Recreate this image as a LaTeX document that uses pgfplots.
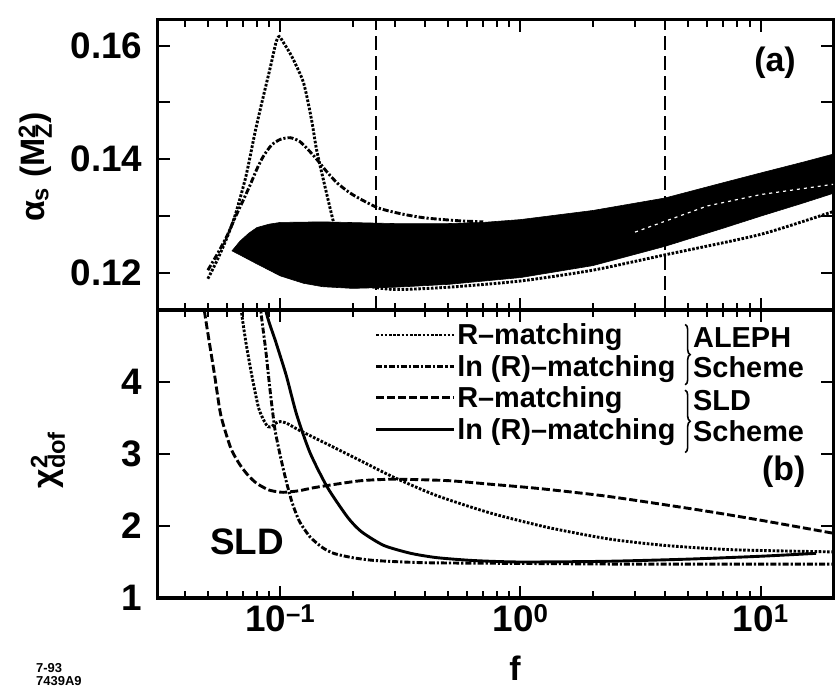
\documentclass[border=0pt]{standalone}
\usepackage{fontspec}
\setmainfont{Liberation Sans}
\usepackage{pgfplots}
\pgfplotsset{compat=1.18}
\usetikzlibrary{decorations.pathreplacing}

\newcommand{\fs}[1]{\fontsize{#1}{#1}\selectfont\bfseries}

% line styles of the four fits
\tikzset{
  alR/.style={black, mark=none, line width=2.9bp, dash pattern=on 2.6bp off 1.6bp},
  alL/.style={black, mark=none, line width=2.9bp, dash pattern=on 6bp off 2bp on 2.2bp off 2bp},
  slR/.style={black, mark=none, line width=2.9bp, dash pattern=on 8bp off 3bp},
  slL/.style={black, mark=none, line width=2.9bp},
}

\pgfplotsset{
  every axis/.append style={
    scale only axis, width=675bp,
    xmode=log, xmin=0.031, xmax=20,
    axis line style={line width=3bp},
    tick align=inside,
    major tick length=12bp, minor tick length=7bp,
    tick style={line width=2bp, black},
    xtick={0.1,1,10},
    minor xtick={0.04,0.05,0.06,0.07,0.08,0.09,0.2,0.3,0.4,0.5,0.6,0.7,0.8,0.9,2,3,4,5,6,7,8,9},
    tick label style={font=\fs{37}},
    yticklabel style={xshift=-12bp},
    xticklabel style={yshift=-3bp, anchor=north},
  },
}

\begin{document}
\begin{tikzpicture}
\useasboundingbox (0,0) rectangle (837bp,687bp);

% ---- (a) alpha_s ----
\begin{axis}[
  at={(158bp,377bp)}, anchor=south west, height=290bp,
  ymin=0.1135, ymax=0.1645,
  ytick={0.12,0.13,0.14,0.15,0.16},
  yticklabels={0.12,,0.14,,0.16},
  xticklabels=\empty,
  ylabel={α\textsubscript{s} (M\rlap{\textsuperscript{2}}\textsubscript{Z})},
  ylabel style={at={(axis description cs:-0.182,0.493)}, anchor=center, font=\fs{34}},
]
% SLD scheme band
\addplot[fill=black, draw=black, line width=0.6bp] coordinates {
  (0.063,0.1239) (0.068,0.1256) (0.074,0.1270) (0.08,0.1280) (0.09,0.1286)
  (0.1,0.1289) (0.15,0.1290) (0.3,0.1287) (0.5,0.1287) (0.7,0.1289)
  (1,0.1294) (2,0.1310) (4,0.1332) (7,0.1359) (10,0.1376) (15,0.1395) (20,0.1409)
  (20,0.1340) (15,0.1323) (10,0.1300) (7,0.1279) (4,0.1247) (2,0.1213)
  (1,0.1192) (0.5,0.1180) (0.3,0.1175) (0.2,0.1173) (0.15,0.1176) (0.125,0.1182)
  (0.1,0.1195) (0.091,0.1204) (0.08,0.1216) (0.07,0.1229) (0.063,0.1239)
} -- cycle;
\addplot[white, line width=1.2bp, dash pattern=on 3bp off 4bp] coordinates {
  (3,0.1272) (6,0.1318) (10,0.1338) (20,0.1356)
};
% ALEPH scheme, R-matching
\addplot[alR, smooth, tension=0.4] coordinates {
  (0.05,0.1190) (0.055,0.1225) (0.06,0.1262) (0.065,0.1302) (0.072,0.1370)
  (0.079,0.1452) (0.085,0.1510) (0.091,0.1562) (0.096,0.1605) (0.099,0.1616)
  (0.104,0.1603) (0.112,0.1580) (0.125,0.1535) (0.135,0.1470) (0.142,0.1415)
  (0.155,0.1345) (0.165,0.1297) (0.18,0.1235) (0.2,0.1195) (0.23,0.1178)
  (0.3,0.1171) (0.5,0.1175) (1,0.1186) (2,0.1205) (4,0.1232) (10,0.1268) (20,0.1308)
};
% ALEPH scheme, ln(R)-matching
\addplot[alL, smooth, tension=0.4] coordinates {
  (0.05,0.1205) (0.055,0.1235) (0.06,0.1265) (0.065,0.1298) (0.07,0.1327)
  (0.075,0.1355) (0.08,0.1383) (0.085,0.1405) (0.092,0.1425) (0.1,0.1435)
  (0.11,0.1438) (0.12,0.1432) (0.13,0.1418) (0.142,0.1400) (0.155,0.1380)
  (0.173,0.1358) (0.2,0.1338) (0.254,0.1315) (0.32,0.1304) (0.4,0.1297)
  (0.55,0.1292) (0.7,0.1290)
};
% range markers
\addplot[black, line width=2.6bp, dash pattern=on 14bp off 6bp] coordinates {(0.25,0.1135) (0.25,0.1645)};
\addplot[black, line width=2.6bp, dash pattern=on 14bp off 6bp] coordinates {(4,0.1135) (4,0.1645)};
\node[font=\fs{34}] at (axis description cs:0.914,0.852) {(a)};
\end{axis}

% ---- (b) chi^2 ----
\begin{axis}[
  at={(158bp,89bp)}, anchor=south west, height=288bp,
  ymin=1, ymax=5,
  ytick={1,2,3,4}, yticklabels={1,2,3,4},
  xticklabels={10\textsuperscript{–1},10\textsuperscript{0},10\textsuperscript{1}},
  xlabel={f},
  xlabel style={at={(axis description cs:0.529,-0.245)}, anchor=center, font=\fs{34}},
  ylabel={χ\rlap{\textsuperscript{2}}\textsubscript{dof}},
  ylabel style={at={(axis description cs:-0.163,0.479)}, anchor=center, font=\fs{34}},
  legend style={at={(axis description cs:0.321,0.958)}, anchor=north west,
    draw=none, fill=none, font=\fs{29}, inner sep=0pt, row sep=6bp,
    nodes={inner sep=1.5bp}},
  legend cell align=left,
  legend image code/.code={\draw[#1] (0bp,0bp) -- (78bp,0bp);},
]
\addplot[alR, smooth, tension=0.4] coordinates {
  (0.067,5.6) (0.0689,5.0) (0.072,4.55) (0.076,4.11) (0.0813,3.64) (0.086,3.45)
  (0.089,3.38) (0.092,3.38) (0.096,3.43) (0.1,3.45) (0.106,3.43) (0.12,3.33)
  (0.15,3.17) (0.218,2.90) (0.3,2.67) (0.45,2.42) (0.75,2.18) (1.3,1.98)
  (2.33,1.82) (4,1.73) (7.7,1.67) (20,1.64)
};
\addlegendentry{R–matching}
\addplot[alL, smooth, tension=0.4] coordinates {
  (0.081,5.6) (0.083,5.0) (0.087,4.45) (0.091,3.85) (0.095,3.35) (0.1,2.98)
  (0.106,2.62) (0.112,2.33) (0.12,2.07) (0.133,1.85) (0.15,1.70) (0.167,1.62)
  (0.2,1.56) (0.25,1.52) (0.4,1.49) (1,1.48) (3,1.47) (20,1.47)
};
\addlegendentry{ln (R)–matching}
\addplot[slR, smooth, tension=0.4] coordinates {
  (0.046,5.6) (0.0483,5.0) (0.0533,4.10) (0.0566,3.54) (0.0623,3.08) (0.068,2.85)
  (0.0737,2.70) (0.08,2.59) (0.0897,2.50) (0.1,2.47) (0.106,2.47) (0.12,2.49)
  (0.137,2.53) (0.17,2.58) (0.218,2.63) (0.3,2.65) (0.5,2.63) (0.75,2.58)
  (1.2,2.52) (2.33,2.41) (5.6,2.22) (10,2.08) (20,1.90)
};
\addlegendentry{R–matching}
\addplot[slL, smooth, tension=0.4] coordinates {
  (0.085,5.6) (0.0871,5.0) (0.096,4.55) (0.106,4.09) (0.117,3.55) (0.133,3.02)
  (0.157,2.54) (0.191,2.12) (0.218,1.92) (0.27,1.73) (0.35,1.62) (0.45,1.56)
  (0.64,1.52) (1,1.50) (2.3,1.51) (5,1.54) (10,1.58) (17,1.62)
};
\addlegendentry{ln (R)–matching}
\draw[line width=1.6bp, decorate, decoration={brace, amplitude=5bp}]
  (axis description cs:0.781,0.950) -- (axis description cs:0.781,0.740);
\draw[line width=1.6bp, decorate, decoration={brace, amplitude=5bp}]
  (axis description cs:0.781,0.722) -- (axis description cs:0.781,0.505);
\node[font=\fs{29}, anchor=west, inner sep=0pt] at (axis description cs:0.7926,0.906) {ALEPH};
\node[font=\fs{29}, anchor=west, inner sep=0pt] at (axis description cs:0.7926,0.800) {Scheme};
\node[font=\fs{29}, anchor=west, inner sep=0pt] at (axis description cs:0.7926,0.686) {SLD};
\node[font=\fs{29}, anchor=west, inner sep=0pt] at (axis description cs:0.7926,0.578) {Scheme};
\node[font=\fs{34}] at (axis description cs:0.927,0.4375) {(b)};
\node[font=\fs{37}] at (axis description cs:0.132,0.194) {SLD};
\end{axis}

\node[font=\fs{13}, align=left, anchor=north west, inner sep=0pt] at (36bp,24bp) {7-93\\7439A9};
\end{tikzpicture}
\end{document}
